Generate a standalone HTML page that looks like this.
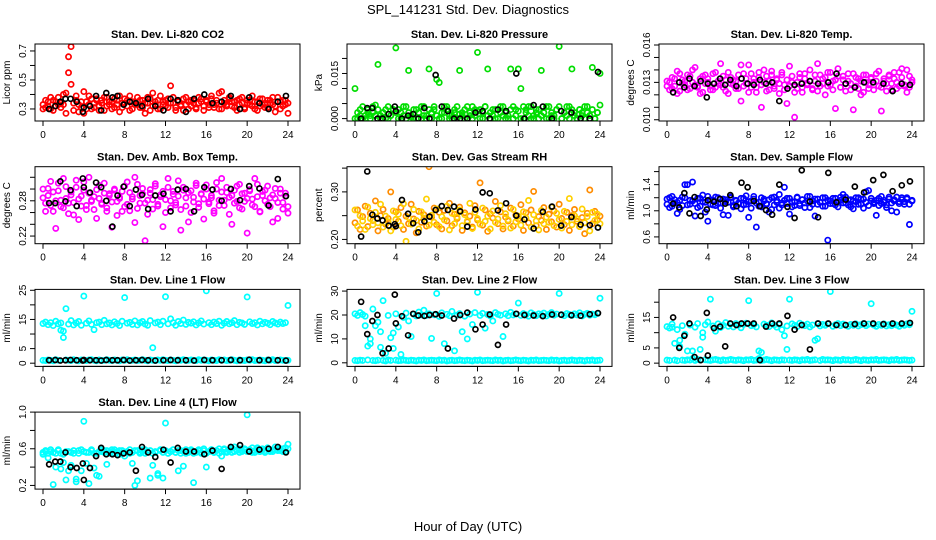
<!DOCTYPE html>
<html><head><meta charset="utf-8"><style>
html,body{margin:0;padding:0;background:#fff;}
svg{display:block;font-family:"Liberation Sans",Arial,sans-serif;}
</style></head><body>
<svg id="chart" width="936" height="540" viewBox="0 0 936 540">
<text x="468" y="14" text-anchor="middle" font-size="13">SPL_141231  Std. Dev. Diagnostics</text>
<text x="468" y="531" text-anchor="middle" font-size="13">Hour of Day (UTC)</text>
</svg>
<script>
const hours=[0,0.25,0.5,0.75,1,1.25,1.5,1.75,2,2.25,2.5,2.75,3,3.25,3.5,3.75,4,4.25,4.5,4.75,5,5.25,5.5,5.75,6,6.25,6.5,6.75,7,7.25,7.5,7.75,8,8.25,8.5,8.75,9,9.25,9.5,9.75,10,10.25,10.5,10.75,11,11.25,11.5,11.75,12,12.25,12.5,12.75,13,13.25,13.5,13.75,14,14.25,14.5,14.75,15,15.25,15.5,15.75,16,16.25,16.5,16.75,17,17.25,17.5,17.75,18,18.25,18.5,18.75,19,19.25,19.5,19.75,20,20.25,20.5,20.75,21,21.25,21.5,21.75,22,22.25,22.5,22.75,23,23.25,23.5,23.75,24];
const blackHours=[0.6,1.2,1.7,2.2,2.7,3.3,3.9,4.0,4.6,5.2,5.7,6.2,6.8,7.3,7.9,8.5,9.1,9.7,10.3,11.0,11.8,12.5,13.2,14.0,14.8,15.8,16.6,17.5,18.4,19.3,20.2,21.2,22.1,23.0,23.8];
const xTicks=[0,4,8,12,16,20,24];

const co2A=[0.33,0.31,0.35,0.30,0.36,0.32,0.38,0.34,0.40,0.41,0.66,0.73,0.29,0.36,0.33,0.31,0.27,0.35,0.39,0.30,0.34,0.37,0.32,0.36,0.29,0.38,0.33,0.35,0.31,0.36,0.28,0.34,0.37,0.32,0.39,0.30,0.35,0.33,0.36,0.31,0.34,0.38,0.29,0.41,0.33,0.36,0.30,0.35,0.32,0.37,0.46,0.34,0.31,0.36,0.33,0.29,0.38,0.35,0.32,0.36,0.30,0.34,0.37,0.32,0.35,0.31,0.39,0.33,0.36,0.30,0.42,0.34,0.32,0.37,0.35,0.31,0.36,0.33,0.38,0.30,0.34,0.36,0.32,0.35,0.29,0.37,0.33,0.31,0.36,0.34,0.38,0.32,0.35,0.30,0.36,0.33,0.27];
const co2B=[0.30,0.36,0.32,0.38,0.29,0.35,0.33,0.31,0.33,0.27,0.55,0.47,0.34,0.39,0.28,0.35,0.42,0.30,0.33,0.37,0.31,0.36,0.29,0.34,0.38,0.32,0.35,0.30,0.37,0.33,0.39,0.31,0.34,0.36,0.29,0.35,0.33,0.38,0.31,0.36,0.27,0.34,0.37,0.32,0.35,0.30,0.39,0.33,0.36,0.31,0.34,0.38,0.29,0.35,0.32,0.37,0.33,0.30,0.36,0.34,0.31,0.38,0.35,0.29,0.36,0.33,0.37,0.31,0.34,0.41,0.30,0.36,0.33,0.38,0.32,0.35,0.29,0.37,0.34,0.31,0.36,0.33,0.39,0.30,0.35,0.32,0.37,0.34,0.31,0.36,0.33,0.28,0.38,0.35,0.32,0.36,0.34];
const co2K=[0.30,0.32,0.35,0.37,0.37,0.35,0.28,0.31,0.32,0.39,0.29,0.41,0.38,0.39,0.33,0.35,0.34,0.32,0.37,0.32,0.29,0.37,0.36,0.28,0.37,0.40,0.34,0.35,0.39,0.30,0.38,0.34,0.30,0.35,0.39];

const presA=[0,.002,.001,.004,0,.003,.001,.002,.0045,.003,.001,.002,0,.004,.001,.003,.002,.003,0,.001,.004,.002,.0005,.003,0,.002,.004,.001,0,.003,.002,.004,.001,0,.002,.004,.003,.001,0,.002,.004,.0015,.001,.003,0,.002,.004,.001,.0025,.003,0,.004,.001,.002,.003,0,.003,.004,.001,.002,0,.003,.004,.001,.0025,0,.004,.003,.001,.004,0,.002,.003,.001,.002,.004,0,.002,.001,.003,.004,0,.002,.001,.004,.003,.002,0,.003,.001,.004,.002,.001,.003,0,.002,.0045];
const presB=[.010,0,.003,0,.001,.002,0,.004,.001,.018,0,.002,.003,0,.001,.003,.0235,0,.002,.004,0,.016,.001,0,.003,.002,0,.004,.001,.0165,0,.003,.013,.012,0,.002,.004,0,.001,.003,0,.016,.002,0,.004,.001,0,.003,.022,0,.002,.004,.0165,0,.001,.003,0,.002,.004,0,.001,.0165,0,.003,.0165,.010,0,.002,.004,0,.001,.003,0,.016,.002,0,.004,.001,0,.003,.024,0,.002,.004,0,.0165,.001,0,.003,.002,0,.004,.001,.017,0,.002,.015];
const presK=[0,.0035,.0035,0,0,.0015,.004,.0025,0,.001,.0015,0,.0035,0,.0145,.004,.0025,0,0,0,.002,.0025,0,.003,.0025,.015,0,.0045,.004,0,.0025,.002,0,0,.0155];

const tempA=[.0127,.0130,.0125,.0133,.0121,.0137,.0129,.0131,.0124,.0135,.0140,.0128,.0126,.0133,.0122,.0136,.0130,.0127,.0124,.0138,.0129,.0145,.0126,.0132,.0121,.0134,.0128,.0131,.0125,.0115,.0137,.0129,.0144,.0126,.0133,.0122,.0138,.0110,.0130,.0135,.0124,.0139,.0127,.0132,.0121,.0136,.0128,.0113,.0143,.0130,.0102,.0125,.0134,.0122,.0137,.0129,.0131,.0124,.0136,.0145,.0127,.0133,.0120,.0138,.0128,.0131,.0109,.0135,.0126,.0132,.0123,.0137,.0129,.0108,.0134,.0125,.0131,.0122,.0136,.0128,.0133,.0124,.0137,.0127,.0107,.0131,.0123,.0136,.0129,.0133,.0125,.0138,.0141,.0127,.0122,.0135,.0130];
const tempB=[.0131,.0124,.0134,.0127,.0139,.0123,.0132,.0128,.0136,.0125,.0130,.0142,.0127,.0121,.0135,.0129,.0133,.0124,.0137,.0126,.0131,.0128,.0135,.0123,.0138,.0129,.0132,.0125,.0136,.0144,.0127,.0133,.0122,.0137,.0130,.0126,.0134,.0128,.0140,.0123,.0131,.0136,.0125,.0133,.0129,.0138,.0124,.0132,.0127,.0135,.0122,.0130,.0137,.0126,.0133,.0128,.0140,.0125,.0131,.0123,.0136,.0129,.0134,.0127,.0138,.0124,.0132,.0141,.0126,.0135,.0129,.0131,.0124,.0137,.0127,.0133,.0120,.0136,.0130,.0125,.0134,.0128,.0131,.0139,.0126,.0133,.0129,.0135,.0124,.0138,.0130,.0127,.0134,.0128,.0140,.0126,.0132];
const tempK=[.0122,.0130,.0126,.0133,.0127,.0131,.0118,.0129,.0129,.0133,.0128,.0132,.0127,.0133,.0129,.0128,.0132,.0129,.0130,.0115,.0125,.0128,.0129,.0131,.0129,.0130,.0137,.0129,.0126,.0130,.0130,.0129,.0123,.0129,.0128];

const boxA=[.285,.262,.301,.272,.295,.233,.310,.281,.268,.304,.276,.290,.256,.315,.283,.271,.298,.265,.320,.279,.287,.250,.306,.274,.293,.262,.289,.278,.300,.255,.284,.296,.270,.312,.263,.287,.243,.308,.276,.292,.212,.281,.299,.266,.305,.274,.290,.236,.282,.318,.268,.296,.277,.288,.230,.303,.271,.294,.260,.286,.310,.275,.291,.249,.307,.278,.285,.263,.300,.272,.318,.281,.294,.257,.289,.276,.305,.268,.292,.279,.225,.297,.283,.270,.308,.262,.289,.298,.274,.285,.244,.301,.277,.293,.266,.288,.259];
const boxB=[.300,.276,.289,.313,.262,.280,.297,.270,.318,.284,.258,.295,.277,.303,.248,.288,.312,.272,.293,.281,.265,.299,.284,.276,.310,.268,.292,.235,.298,.279,.286,.262,.305,.274,.294,.283,.320,.267,.289,.301,.276,.257,.293,.282,.309,.271,.287,.296,.260,.303,.280,.291,.273,.314,.265,.298,.285,.244,.297,.278,.306,.269,.292,.283,.300,.275,.289,.259,.311,.281,.295,.272,.303,.286,.240,.298,.279,.308,.266,.293,.284,.299,.273,.318,.287,.261,.296,.280,.305,.270,.290,.284,.250,.300,.277,.293,.270];
const boxK=[.276,.276,.313,.279,.298,.271,.318,.303,.294,.311,.303,.280,.236,.289,.304,.271,.299,.290,.266,.289,.292,.262,.299,.300,.262,.303,.299,.280,.300,.281,.305,.301,.272,.317,.288];

const rhA=[.235,.262,.221,.248,.270,.227,.255,.240,.281,.218,.250,.263,.232,.244,.300,.226,.258,.238,.267,.221,.249,.233,.274,.243,.214,.259,.236,.252,.228,.353,.247,.266,.231,.257,.222,.261,.239,.276,.229,.253,.244,.268,.219,.256,.237,.249,.226,.271,.241,.319,.230,.262,.217,.254,.245,.280,.233,.258,.222,.247,.239,.266,.228,.251,.243,.273,.219,.256,.235,.262,.301,.229,.248,.240,.267,.221,.253,.237,.260,.226,.274,.244,.231,.257,.219,.250,.263,.238,.227,.246,.212,.255,.304,.233,.259,.241,.249];
const rhB=[.262,.228,.250,.239,.221,.268,.244,.231,.257,.235,.274,.226,.249,.237,.218,.260,.242,.253,.229,.275,.196,.246,.232,.263,.240,.222,.258,.245,.285,.230,.251,.236,.264,.227,.248,.241,.270,.220,.255,.233,.247,.262,.229,.252,.239,.276,.223,.257,.244,.232,.266,.238,.249,.222,.260,.236,.243,.271,.228,.254,.241,.224,.263,.237,.249,.230,.258,.245,.282,.226,.252,.239,.220,.261,.233,.247,.236,.268,.229,.255,.242,.224,.259,.238,.286,.231,.250,.243,.227,.264,.235,.248,.218,.257,.240,.253,.233];
const rhK=[.206,.343,.252,.244,.240,.229,.232,.228,.283,.254,.234,.215,.238,.248,.262,.270,.262,.269,.259,.227,.263,.299,.297,.261,.276,.250,.242,.223,.258,.269,.229,.247,.231,.230,.225];

const flowA=[1.18,1.05,1.22,1.12,0.96,1.16,1.08,1.20,1.40,1.10,1.15,0.92,1.19,1.07,1.24,1.13,0.84,1.17,1.09,1.21,1.11,1.04,1.18,1.14,0.93,1.20,1.08,1.16,1.12,1.03,1.19,1.10,0.90,1.15,1.22,0.75,1.13,1.06,1.18,1.11,0.98,1.20,1.09,1.16,1.04,1.12,1.36,1.19,0.95,1.14,1.08,1.21,1.11,1.17,1.05,1.15,1.22,1.10,0.92,1.18,1.13,1.07,1.20,0.55,1.15,1.11,1.19,1.06,1.16,1.12,1.21,1.09,1.17,1.03,1.14,1.20,1.10,1.18,1.29,1.08,1.15,1.13,0.93,1.19,1.11,1.16,1.05,1.21,1.12,1.17,0.98,1.14,1.20,1.10,1.18,0.79,1.15];
const flowB=[1.10,1.20,1.07,1.17,1.13,1.02,1.21,1.40,1.09,1.16,1.44,1.11,1.05,1.19,1.14,0.98,1.22,1.10,1.16,1.08,1.20,1.12,0.94,1.17,1.13,1.21,1.06,1.15,1.11,1.19,1.09,1.23,1.14,1.04,1.18,1.12,1.07,1.20,1.15,1.10,1.17,1.02,1.21,1.13,1.25,1.09,1.16,1.11,1.19,1.06,1.14,1.20,1.08,1.17,1.12,1.22,1.05,1.15,1.18,1.10,1.13,1.20,1.07,1.16,1.11,1.19,1.09,1.14,1.21,1.25,1.12,1.17,1.06,1.15,1.20,1.10,1.18,1.04,1.13,1.31,1.19,1.11,1.16,1.08,1.22,1.13,1.09,1.18,1.00,1.15,1.21,1.11,1.17,1.14,1.20,1.10,1.16];
const flowK=[1.11,1.05,1.27,0.96,1.21,0.92,1.02,1.16,1.14,1.18,1.11,1.24,1.07,1.43,1.36,1.15,1.07,1.01,0.94,1.40,1.06,0.89,1.62,1.14,0.90,1.58,1.13,1.17,1.37,1.28,1.47,1.55,1.30,1.39,1.45];

const l1A=[13.6,14.1,13.2,13.9,12.9,14.4,13.5,13.8,11.0,18.7,13.4,14.6,13.1,13.8,14.3,13.0,23.0,13.7,14.5,13.3,11.5,13.9,14.1,13.2,14.7,13.5,13.8,13.1,14.2,13.6,12.9,14.4,22.5,13.7,14.0,13.3,14.5,13.1,13.9,14.3,13.4,13.0,14.6,5.3,13.8,14.1,13.2,14.4,22.8,13.5,15.2,13.9,13.0,14.3,13.6,14.8,13.3,14.0,13.7,14.2,13.1,13.8,14.5,13.4,24.8,13.9,13.2,14.1,13.6,14.4,13.0,13.7,14.3,13.5,13.9,14.6,13.2,14.0,13.8,13.3,22.7,14.2,13.6,13.9,13.1,14.4,13.5,14.0,13.7,13.2,14.3,13.8,13.4,14.1,13.6,13.9,19.8];
const l1B=[1.0,0.9,1.1,1.0,0.8,1.2,1.0,11.3,8.8,1.1,1.0,0.9,1.2,1.0,0.8,1.1,1.0,0.9,1.1,1.2,1.0,0.8,1.1,0.9,1.0,1.2,1.0,0.9,1.1,1.0,0.8,1.1,1.0,1.2,0.9,1.0,1.1,0.9,1.0,1.2,1.0,0.8,1.1,1.0,0.9,1.1,1.0,1.2,1.0,0.9,1.1,1.0,0.8,1.1,1.0,1.2,0.9,1.0,1.1,1.0,0.9,1.2,1.0,1.1,1.0,0.8,1.1,1.0,0.9,1.2,1.0,1.1,0.9,1.0,1.2,1.0,0.8,1.1,1.0,0.9,1.1,1.0,1.2,0.9,1.0,1.1,1.0,0.8,1.1,1.0,1.2,0.9,1.0,1.1,1.0,0.9,1.0];
const l1K=[1.0,1.1,0.9,1.0,1.1,1.0,0.9,1.1,1.0,1.0,0.9,1.1,1.0,1.0,1.1,0.9,1.0,1.1,1.0,0.9,1.0,1.1,1.0,1.0,0.9,1.1,1.0,1.0,1.1,1.0,1.2,1.0,1.1,1.0,0.9];

const l2A=[20.5,19.8,21.0,20.2,19.5,7.0,10.0,22.5,15.5,17.0,13.0,26.0,4.0,19.8,10.5,12.5,20.5,15.0,3.5,19.0,20.8,17.5,11.0,20.3,19.6,21.2,20.0,22.0,19.8,20.5,10.2,20.1,29.0,19.4,20.9,8.0,20.3,19.7,21.5,5.0,19.9,20.6,13.0,19.5,10.0,20.4,16.0,21.0,29.5,19.8,20.7,14.5,20.2,19.6,17.5,21.0,20.3,19.9,11.0,20.5,19.7,21.1,20.0,20.4,25.0,19.8,20.6,20.1,19.5,20.9,20.2,19.7,20.5,20.0,20.8,19.6,20.3,21.0,19.9,20.4,29.0,20.1,19.7,20.6,20.2,19.8,20.5,20.0,20.9,19.6,20.3,20.7,19.9,20.4,20.1,20.6,27.0];
const l2B=[1.0,0.9,1.1,1.0,15.5,1.2,8.0,1.0,0.9,1.1,6.5,1.0,0.8,1.2,1.0,6.0,1.1,0.9,1.0,1.2,1.0,0.9,1.1,1.0,0.8,1.1,1.0,1.2,0.9,1.0,1.1,1.0,0.9,1.2,1.0,1.1,0.8,1.0,1.1,0.9,1.0,1.2,1.0,0.9,1.1,1.0,0.8,1.1,1.0,1.2,0.9,1.0,1.1,1.0,0.9,1.2,1.0,1.1,0.8,1.0,1.1,0.9,1.0,1.2,1.0,0.9,1.1,1.0,0.8,1.1,1.0,1.2,0.9,1.0,1.1,1.0,0.9,1.2,1.0,1.1,0.8,1.0,1.1,0.9,1.0,1.2,1.0,0.9,1.1,1.0,0.8,1.1,1.0,1.2,0.9,1.0,1.1];
const l2K=[25.5,12.0,17.5,20.0,4.0,6.0,28.5,16.5,19.5,11.5,20.5,19.8,19.6,20.0,20.3,19.8,6.0,18.5,20.0,21.0,14.0,16.0,20.2,7.5,16.0,20.5,20.0,19.8,19.5,20.2,20.1,19.9,19.7,20.3,20.8];

const l3A=[12.0,11.5,12.8,6.5,11.0,7.5,12.3,9.5,4.0,12.5,1.5,11.8,13.0,4.5,10.0,12.6,13.5,21.0,12.2,10.5,12.9,11.7,12.4,13.3,12.1,12.8,11.9,13.0,12.5,11.6,12.7,13.1,20.5,12.3,12.6,11.9,1.5,3.5,12.8,12.4,12.0,13.2,12.5,11.8,12.7,11.0,9.0,12.2,21.0,12.9,12.4,12.0,13.1,12.6,12.3,12.8,11.9,12.5,7.5,13.0,12.2,12.7,12.4,12.9,23.5,12.1,12.6,13.0,12.3,12.8,12.5,12.1,12.7,12.4,12.9,12.2,12.6,13.0,12.3,12.8,19.5,12.5,12.1,12.7,12.4,12.9,12.2,12.6,12.3,12.8,12.5,12.1,12.7,12.4,12.9,12.6,17.0];
const l3B=[1.0,0.9,11.8,1.0,0.8,5.5,1.0,0.9,1.1,1.0,4.0,0.9,1.2,1.0,8.5,1.1,1.0,0.9,1.1,1.2,1.0,0.8,1.1,0.9,1.0,1.2,1.0,0.9,1.1,1.0,0.8,1.1,1.0,1.2,0.9,1.0,4.0,0.9,1.0,1.2,1.0,0.8,1.1,1.0,0.9,1.1,1.0,4.5,1.0,0.9,1.1,1.0,0.8,1.1,1.0,1.2,0.9,1.0,1.1,8.0,0.9,1.2,1.0,1.1,1.0,0.8,1.1,1.0,0.9,1.2,1.0,1.1,0.9,1.0,1.2,1.0,0.8,1.1,1.0,0.9,1.1,1.0,1.2,0.9,1.0,1.1,1.0,0.8,1.1,1.0,1.2,0.9,1.0,1.1,1.0,0.9,1.0];
const l3K=[15.0,5.0,9.0,13.0,2.0,1.0,16.5,2.5,11.5,12.0,5.5,13.0,12.5,13.0,13.0,13.0,1.0,12.0,13.0,13.0,15.5,11.0,12.5,4.5,13.0,13.0,12.5,12.5,12.8,13.0,13.0,12.8,13.0,13.0,13.2];

const l4A=[0.56,0.58,0.50,0.57,0.21,0.55,0.59,0.38,0.54,0.26,0.57,0.42,0.55,0.24,0.58,0.36,0.90,0.56,0.22,0.59,0.39,0.55,0.30,0.57,0.58,0.43,0.56,0.59,0.55,0.57,0.54,0.58,0.56,0.57,0.55,0.44,0.20,0.58,0.56,0.59,0.55,0.57,0.28,0.42,0.56,0.33,0.58,0.28,0.88,0.55,0.57,0.59,0.56,0.36,0.58,0.41,0.55,0.57,0.59,0.23,0.56,0.58,0.55,0.60,0.40,0.57,0.59,0.56,0.58,0.55,0.52,0.60,0.57,0.59,0.56,0.62,0.58,0.60,0.57,0.59,0.97,0.58,0.61,0.56,0.59,0.57,0.60,0.58,0.61,0.57,0.59,0.62,0.58,0.60,0.57,0.61,0.65];
const l4B=[0.54,0.57,0.55,0.59,0.56,0.40,0.58,0.55,0.45,0.57,0.36,0.56,0.58,0.27,0.55,0.59,0.57,0.44,0.56,0.58,0.55,0.31,0.57,0.59,0.56,0.58,0.55,0.57,0.59,0.56,0.58,0.55,0.52,0.57,0.59,0.56,0.58,0.25,0.55,0.57,0.59,0.56,0.58,0.55,0.57,0.31,0.59,0.56,0.58,0.55,0.57,0.59,0.56,0.58,0.55,0.57,0.59,0.56,0.58,0.55,0.57,0.59,0.56,0.58,0.55,0.57,0.59,0.56,0.58,0.60,0.57,0.59,0.56,0.58,0.61,0.57,0.59,0.56,0.58,0.60,0.57,0.59,0.56,0.58,0.61,0.57,0.59,0.56,0.60,0.58,0.57,0.59,0.61,0.58,0.60,0.57,0.60];
const l4K=[0.43,0.46,0.46,0.56,0.40,0.39,0.44,0.26,0.39,0.52,0.61,0.54,0.54,0.53,0.55,0.56,0.36,0.62,0.56,0.51,0.59,0.45,0.61,0.57,0.57,0.54,0.58,0.38,0.62,0.64,0.57,0.59,0.60,0.62,0.56];

const panels=[
 {name:'co2',title:'Stan. Dev. Li-820 CO2',ylab:'Licor ppm',col:0,row:0,ymin:0.217,ymax:0.748,ticks:[0.3,0.4,0.5,0.6,0.7],labels:['0.3','','0.5','','0.7'],series:[[co2A,'#ff0000'],[co2B,'#ff0000']],blk:co2K},
 {name:'pressure',title:'Stan. Dev. Li-820 Pressure',ylab:'kPa',col:1,row:0,ymin:-0.0008,ymax:0.0248,ticks:[0,0.005,0.01,0.015,0.02],labels:['0.000','','','0.015',''],series:[[presA,'#00dd00'],[presB,'#00dd00']],blk:presK},
 {name:'temp',title:'Stan. Dev. Li-820 Temp.',ylab:'degrees C',col:2,row:0,ymin:0.0099,ymax:0.01608,ticks:[0.010,0.011,0.012,0.013,0.014,0.015,0.016],labels:['0.010','','','0.013','','','0.016'],series:[[tempA,'#ff00ff'],[tempB,'#ff00ff']],blk:tempK},
 {name:'box-temp',title:'Stan. Dev. Amb. Box Temp.',ylab:'degrees C',col:0,row:1,ymin:0.207,ymax:0.338,ticks:[0.22,0.24,0.26,0.28,0.30,0.32],labels:['0.22','','','0.28','',''],series:[[boxA,'#ff00ff'],[boxB,'#ff00ff']],blk:boxK},
 {name:'rh',title:'Stan. Dev. Gas Stream RH',ylab:'percent',col:1,row:1,ymin:0.191,ymax:0.353,ticks:[0.20,0.25,0.30,0.35],labels:['0.20','','0.30',''],series:[[rhA,'#ff8c00'],[rhB,'#ffd000']],blk:rhK},
 {name:'sample-flow',title:'Stan. Dev. Sample Flow',ylab:'ml/min',col:2,row:1,ymin:0.496,ymax:1.675,ticks:[0.6,0.8,1.0,1.2,1.4,1.6],labels:['0.6','','1.0','','1.4',''],series:[[flowA,'#0000ff'],[flowB,'#0000ff']],blk:flowK},
 {name:'line1-flow',title:'Stan. Dev. Line 1 Flow',ylab:'ml/min',col:0,row:2,ymin:-1.1,ymax:25.3,ticks:[0,5,10,15,20,25],labels:['0','5','','15','','25'],series:[[l1A,'#00ffff'],[l1B,'#00ffff']],blk:l1K},
 {name:'line2-flow',title:'Stan. Dev. Line 2 Flow',ylab:'ml/min',col:1,row:2,ymin:-1.5,ymax:30.7,ticks:[0,10,20,30],labels:['0','10','20','30'],series:[[l2A,'#00ffff'],[l2B,'#00ffff']],blk:l2K},
 {name:'line3-flow',title:'Stan. Dev. Line 3 Flow',ylab:'ml/min',col:2,row:2,ymin:-1.07,ymax:24.2,ticks:[0,5,10,15,20],labels:['0','5','','15',''],series:[[l3A,'#00ffff'],[l3B,'#00ffff']],blk:l3K},
 {name:'line4-flow',title:'Stan. Dev. Line 4 (LT) Flow',ylab:'ml/min',col:0,row:3,ymin:0.16,ymax:1.0,ticks:[0.2,0.4,0.6,0.8,1.0],labels:['0.2','','0.6','','1.0'],series:[[l4A,'#00ffff'],[l4B,'#00ffff']],blk:l4K}
];

const NS='http://www.w3.org/2000/svg';
const svg=document.getElementById('chart');
function mk(tag,attrs,parent){const e=document.createElementNS(NS,tag);for(const k in attrs)e.setAttribute(k,attrs[k]);parent.appendChild(e);return e;}
const BW=265,BH=77;
panels.forEach(p=>{
  const L=35+p.col*312, T=44+p.row*122.7;
  const g=mk('g',{},svg);
  
  
  const xs=h=>L+8+h*(245/24);
  const ys=v=>T+BH-(v-p.ymin)/(p.ymax-p.ymin)*BH;
  const t=mk('text',{x:L+BW/2,y:T-6,'text-anchor':'middle','font-size':'11','font-weight':'bold'},g);
  t.textContent=p.title;
  
  
  const yl=mk('text',{x:0,y:0,'text-anchor':'middle','font-size':'10',transform:`translate(${L-25},${T+BH/2}) rotate(-90)`},g);
  yl.textContent=p.ylab;
  
  
  const xa=mk('g',{},g);
  
  
  mk('line',{x1:xs(0),x2:xs(24),y1:T+BH,y2:T+BH,stroke:'#000','stroke-width':1},xa);
  xTicks.forEach(v=>{
    mk('line',{x1:xs(v),x2:xs(v),y1:T+BH,y2:T+BH+5,stroke:'#000','stroke-width':1},xa);
    const lt=mk('text',{x:xs(v),y:T+BH+17,'text-anchor':'middle','font-size':'10'},xa);
    lt.textContent=v;
    
    
  });
  const ya=mk('g',{},g);
  
  
  mk('line',{x1:L,x2:L,y1:ys(p.ticks[0]),y2:ys(p.ticks[p.ticks.length-1]),stroke:'#000','stroke-width':1},ya);
  p.ticks.forEach((v,i)=>{
    mk('line',{x1:L-5,x2:L,y1:ys(v),y2:ys(v),stroke:'#000','stroke-width':1},ya);
    if(p.labels[i]){
      const lt=mk('text',{x:0,y:0,'text-anchor':'middle','font-size':'10',transform:`translate(${L-9},${ys(v)}) rotate(-90)`},ya);
      lt.textContent=p.labels[i];
      
      
    }
  });
  const clipId='clip-'+p.name;
  const cp=mk('clipPath',{id:clipId},g);
  mk('rect',{x:L,y:T,width:BW,height:BH},cp);
  const pts=mk('g',{'clip-path':`url(#${clipId})`},g);
  
  
  p.series.forEach(([vals,color])=>{
    const n=Math.min(hours.length,vals.length);
    for(let i=0;i<n;i++){
      const c=mk('circle',{cx:xs(hours[i]),cy:ys(vals[i]),r:2.6,fill:'none',stroke:color,'stroke-width':1.7},pts);
      
      
    }
  });
  const n=Math.min(blackHours.length,p.blk.length);
  for(let i=0;i<n;i++){
    const c=mk('circle',{cx:xs(blackHours[i]),cy:ys(p.blk[i]),r:2.5,fill:'none',stroke:'#000','stroke-width':1.7},pts);
    
    
  }
  const fr=mk('rect',{x:L,y:T,width:BW,height:BH,fill:'none',stroke:'#000','stroke-width':1},g);
  
  
});
</script>
</body></html>
